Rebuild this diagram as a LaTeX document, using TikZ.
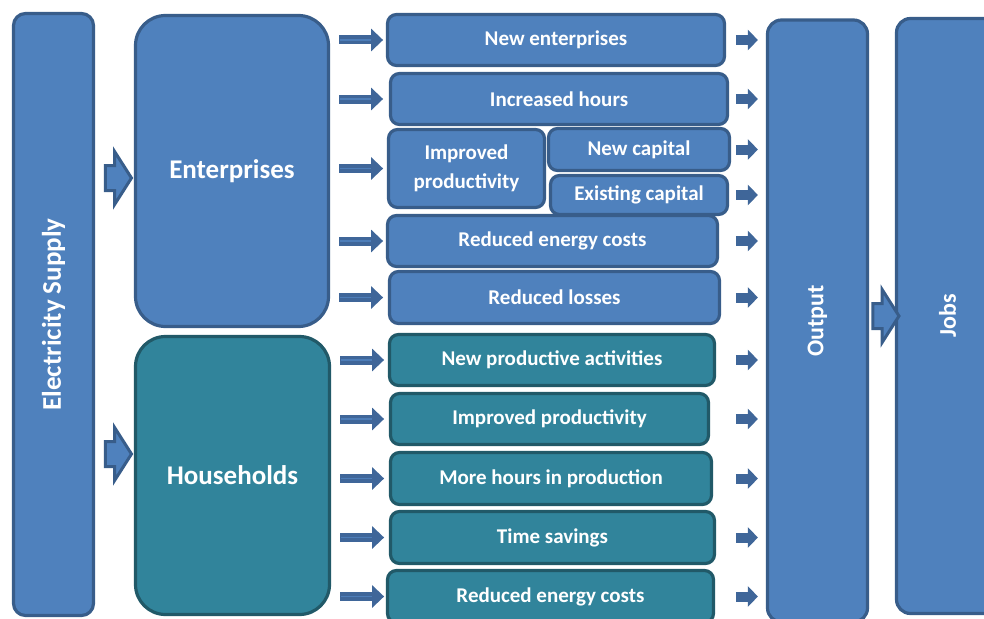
\documentclass[tikz,border=0pt]{standalone}
\usepackage{fontspec}
\setmainfont{Carlito}
\usepackage{tikz}
\usetikzlibrary{shapes.arrows,arrows.meta}
\definecolor{boxblue}{HTML}{4F81BD}
\definecolor{lineblue}{HTML}{385D8A}
\definecolor{boxteal}{HTML}{31849B}
\definecolor{lineteal}{HTML}{215968}
\definecolor{arrblue}{HTML}{3F6699}
\newcommand{\midfont}{\bfseries\fontsize{21}{29}\selectfont}
\newcommand{\bigfont}{\bfseries\fontsize{27}{30}\selectfont}
\newcommand{\sidefont}{\bfseries\fontsize{24}{26}\selectfont}

\begin{document}
\begin{tikzpicture}[x=1pt,y=-1pt]
\tikzset{bluebox/.style={draw=lineblue, fill=boxblue, line width=3.2pt, rounded corners=9pt, text=white, font=\midfont, align=center, inner sep=0pt}}
\tikzset{tealbox/.style={bluebox, draw=lineteal, fill=boxteal}}
\tikzset{fatarrow/.style={single arrow, draw=lineblue, fill=boxblue, line width=3pt, inner xsep=0pt, inner ysep=11pt, minimum height=26pt, single arrow head extend=14pt, single arrow tip angle=115, single arrow head indent=0pt}}
\tikzset{thinarrow/.style={draw=arrblue, line width=9pt, -{Triangle[length=12pt,width=22pt]}, postaction={draw=boxblue!85!arrblue, line width=1.6pt, -, shorten >=12pt, shorten <=1pt}}}
\tikzset{tinyarrow/.style={draw=arrblue, line width=10pt, -{Triangle[length=10pt,width=20pt]}}}
\useasboundingbox (0,0) rectangle (984,618);
\clip (0,0) rectangle (984,618);

% left column
\node[bluebox, minimum width=80pt, minimum height=602pt, rounded corners=12pt, font=\bigfont] (elec) at (53.5,314.5) {\rotatebox{90}{Electricity Supply}};
\node[bluebox, minimum width=193pt, minimum height=311pt, rounded corners=30pt, font=\bigfont] (ent) at (232,171) {Enterprises};
\node[tealbox, minimum width=194pt, minimum height=278pt, rounded corners=30pt, font=\bigfont] (hh) at (232.5,475.5) {Households};

% right column
\node[bluebox, minimum width=100pt, minimum height=602pt, rounded corners=14pt, font=\sidefont] (out) at (817.5,321) {\rotatebox{90}{Output}};
\node[bluebox, minimum width=102pt, minimum height=595pt, rounded corners=14pt, font=\sidefont] (jobs) at (947.5,316) {\rotatebox{90}{Jobs}};

% enterprise channels
\node[bluebox, minimum width=337pt, minimum height=51pt] (e1) at (556,40) {New enterprises};
\node[bluebox, minimum width=337pt, minimum height=51pt] (e2) at (559,99) {Increased hours};
\node[bluebox, minimum width=156pt, minimum height=78pt] (e3) at (466.5,168.5) {Improved\\productivity};
\node[bluebox, minimum width=181pt, minimum height=42pt] (e3a) at (639,149.5) {New capital};
\node[bluebox, minimum width=177pt, minimum height=39pt] (e3b) at (639,195) {Existing capital};
\node[bluebox, minimum width=330pt, minimum height=51pt] (e4) at (552.5,241) {Reduced energy costs};
\node[bluebox, minimum width=330pt, minimum height=52pt] (e5) at (554.5,297.5) {Reduced losses};

% household channels
\node[tealbox, minimum width=325pt, minimum height=51pt] (h1) at (552,360) {New productive activities};
\node[tealbox, minimum width=318pt, minimum height=51pt] (h2) at (549.5,419) {Improved productivity};
\node[tealbox, minimum width=321pt, minimum height=52pt] (h3) at (551,478.5) {More hours in production};
\node[tealbox, minimum width=324pt, minimum height=52pt] (h4) at (552.5,537.5) {Time savings};
\node[tealbox, minimum width=326pt, minimum height=52pt] (h5) at (550.5,596.5) {Reduced energy costs};

% fat arrows
\path (elec.east |- 0,178) -- (ent.west |- 0,178) node[midway, fatarrow] (a1) {};
\path (elec.east |- 0,454) -- (hh.west |- 0,454) node[midway, fatarrow] (a2) {};
\path (out.east |- 0,316) -- (jobs.west |- 0,316) node[midway, fatarrow] (a3) {};

% arrows into the channels
\foreach \b in {e1,e2,e3,e4,e5}
  \draw[thinarrow] ([xshift=9pt]ent.east |- \b) -- ([xshift=53pt]ent.east |- \b);
\foreach \b in {h1,h2,h3,h4,h5}
  \draw[thinarrow] ([xshift=9pt]hh.east |- \b) -- ([xshift=53pt]hh.east |- \b);

% arrows into output
\foreach \b in {e1,e2,e3a,e3b,e4,e5,h1,h2,h3,h4,h5}
  \draw[tinyarrow] ([xshift=-30pt]out.west |- \b) -- ([xshift=-8pt]out.west |- \b);
\end{tikzpicture}
\end{document}
